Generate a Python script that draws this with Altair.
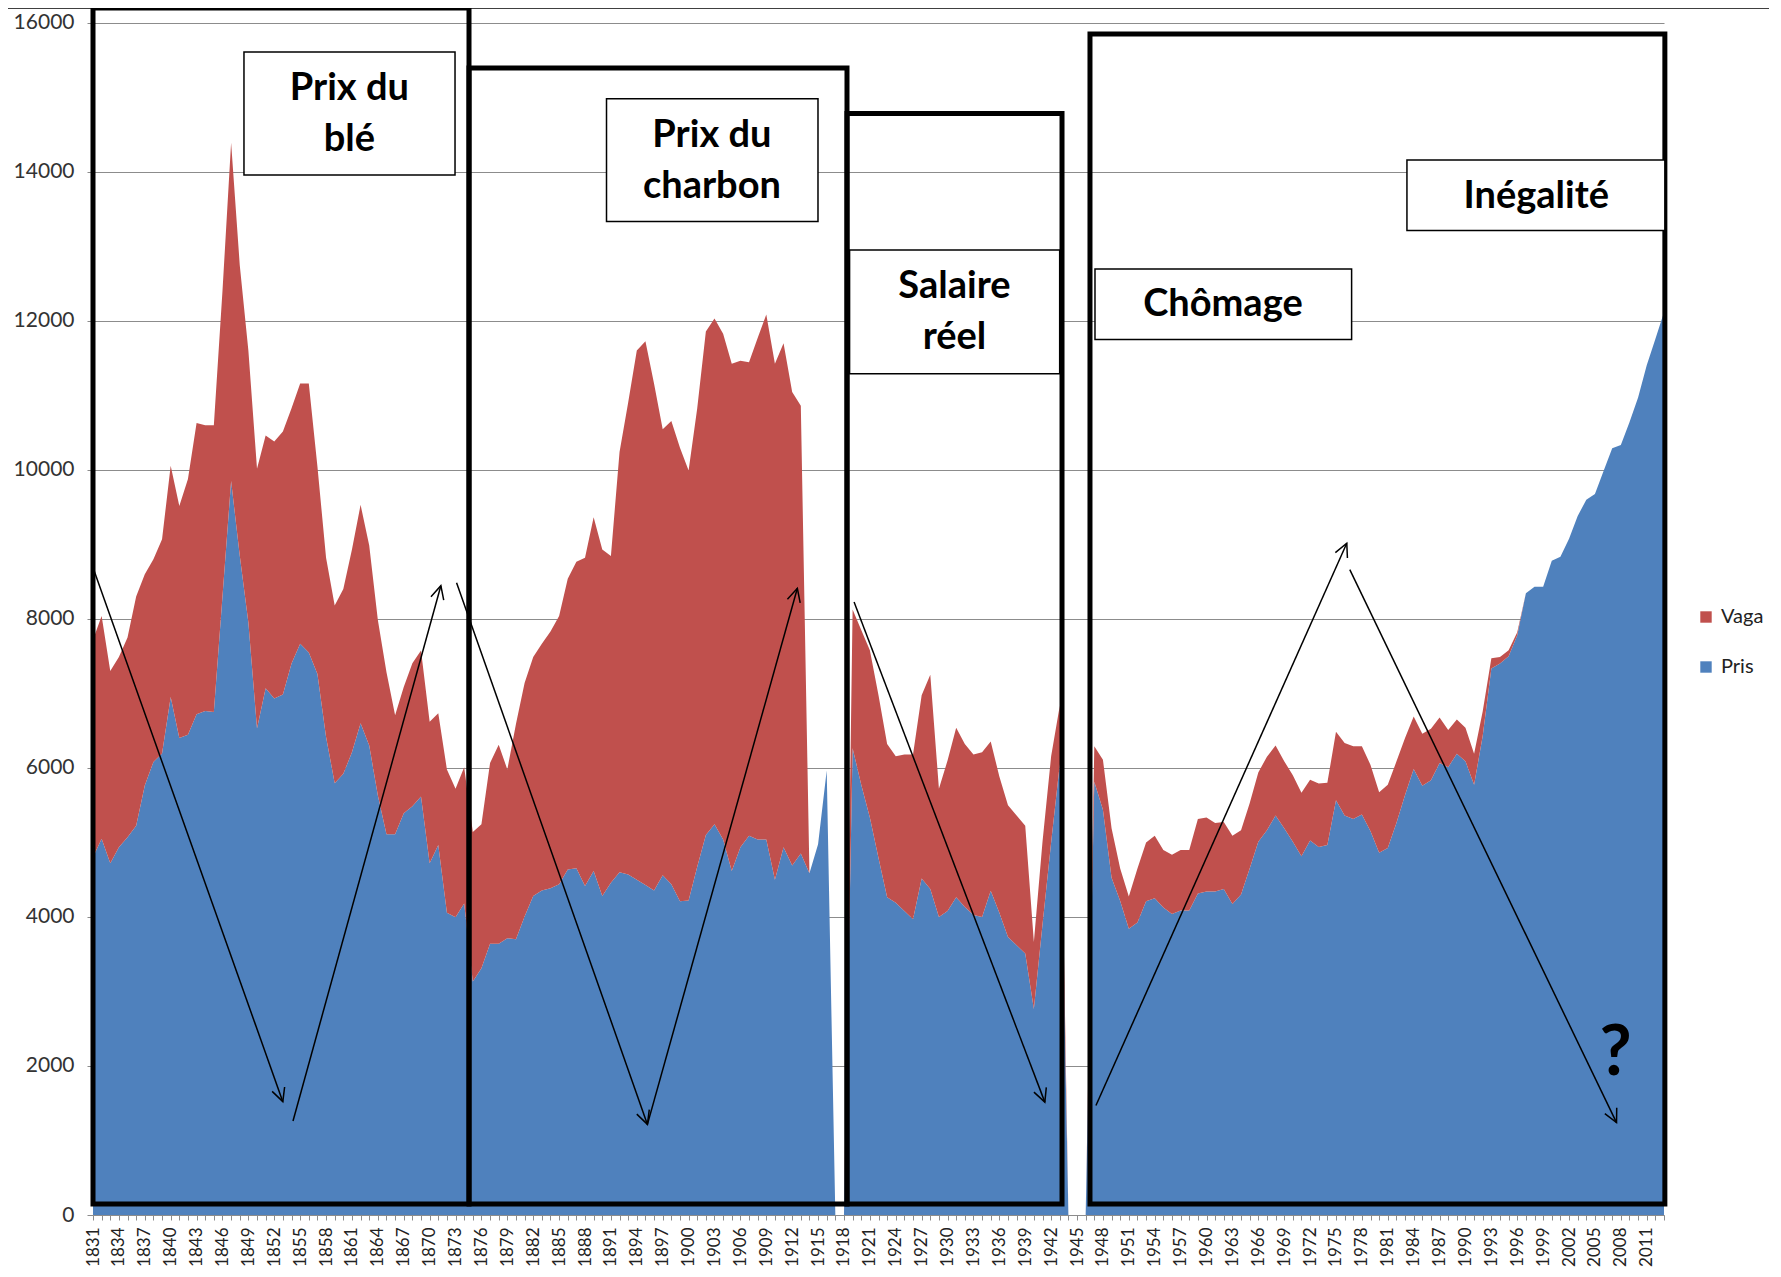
import math
import altair as alt
import pandas as pd

# ---------------- data ----------------
first_year = 1831
last_year = 2013
years = list(range(first_year, last_year + 1))

pris = [
    # 1831-1874
    4800, 5050, 4720, 4935, 5070, 5225, 5765, 6080, 6195, 6950,
    6400, 6445, 6720, 6765, 6750, 8300, 9850, 8850, 7950, 6530,
    7070, 6930, 6985, 7400, 7665, 7550, 7260, 6415, 5795, 5920,
    6210, 6600, 6300, 5630, 5110, 5110, 5390, 5485, 5615, 4720,
    4965, 4055, 3995, 4180,
    # 1875-1918
    3135, 3310, 3640, 3640, 3715, 3700, 4005, 4280, 4355, 4385,
    4440, 4635, 4655, 4415, 4615, 4280, 4460, 4600, 4570, 4500,
    4430, 4355, 4560, 4440, 4210, 4220, 4675, 5100, 5245, 5040,
    4615, 4935, 5090, 5040, 5040, 4500, 4935, 4690, 4850, 4585,
    4975, 5965, 0, 0,
    # 1919-1946
    6265, 5775, 5335, 4790, 4265, 4190, 4080, 3970, 4515, 4375,
    4000, 4080, 4265, 4135, 4025, 4000, 4350, 4055, 3730, 3620,
    3510, 2765, 3900, 5000, 6050, 0, 0, 0,
    # 1947-2013
    5815, 5440, 4525, 4215, 3840, 3925, 4210, 4250, 4125, 4040,
    4085, 4085, 4315, 4340, 4340, 4375, 4175, 4300, 4650, 5010,
    5165, 5360, 5190, 5010, 4815, 5025, 4940, 4965, 5565, 5360,
    5315, 5375, 5150, 4860, 4925, 5260, 5635, 5985, 5760, 5835,
    6065, 6010, 6190, 6090, 5775, 6430, 7335, 7400, 7500, 7780,
    8345, 8430, 8430, 8780, 8835, 9075, 9380, 9600, 9675, 9985,
    10290, 10335, 10640, 10970, 11405, 11755, 12115,
]

vaga = [
    # 1831-1874
    2920, 2990, 2580, 2555, 2680, 3075, 2835, 2720, 2875, 3105,
    3115, 3431, 3908, 3835, 3850, 4100, 4540, 3900, 3650, 3485,
    3390, 3450, 3530, 3425, 3495, 3610, 2785, 2405, 2385, 2480,
    2720, 2930, 2685, 2355, 2175, 1595, 1695, 1920, 1960, 1900,
    1770, 1925, 1725, 1830,
    # 1875-1918
    2005, 1935, 2425, 2670, 2265, 2890, 3135, 3210, 3310, 3445,
    3600, 3905, 4110, 4405, 4750, 4650, 4385, 5640, 6335, 7100,
    7295, 6800, 5985, 6215, 6085, 5770, 6150, 6755, 6785, 6785,
    6810, 6530, 6355, 6730, 7045, 6925, 6765, 6355, 6010, 0,
    0, 0, 0, 0,
    # 1919-1946
    1860, 2075, 2245, 2185, 2055, 1965, 2100, 2210, 2460, 2875,
    1720, 2020, 2275, 2185, 2155, 2210, 2005, 1830, 1770, 1740,
    1715, 900, 1110, 1155, 785, 0, 0, 0,
    # 1947-2013
    475, 670, 665, 435, 435, 725, 790, 840, 775, 795,
    815, 815, 1000, 995, 920, 900, 915, 865, 875, 930,
    985, 940, 900, 890, 850, 815, 850, 835, 920, 975,
    975, 915, 890, 815, 850, 825, 765, 705, 700, 690,
    610, 500, 460, 450, 415, 330, 135, 90, 80, 40,
    0, 0, 0, 0, 0, 0, 0, 0, 0, 0,
    0, 0, 0, 0, 0, 0, 0,
]

series_names = ["Vaga", "Pris"]
series_colors = ["#C0504D", "#4F81BD"]
y_ticks = [0, 2000, 4000, 6000, 8000, 10000, 12000, 14000, 16000]
x_ticks = years

# big framed periods (year left, year right, top value, bottom value)
frame_x1 = [1831.0, 1874.56, 1918.35, 1946.5]
frame_x2 = [1874.56, 1918.35, 1943.26, 2013.1]
frame_top = [16198, 15393, 14781, 15849]
frame_bottom = [148, 148, 148, 148]

# label boxes
label_x1 = [1848.49, 1890.49, 1918.65, 1947.08, 1983.22]
label_x2 = [1872.94, 1914.99, 1942.99, 1976.81, 2013.1]
label_y1 = [13957, 13333, 11290, 11748, 13211]
label_y2 = [15607, 14980, 12950, 12695, 14158]

# label text lines
line_text = ["Prix du", "blé", "Prix du", "charbon", "Salaire", "réel", "Chômage", "Inégalité"]
line_x = [1860.7, 1860.7, 1902.7, 1902.7, 1930.8, 1930.8, 1961.9, 1998.2]
line_y = [15111, 14427, 14480, 13796, 12454, 11763, 12206, 13668]

# arrows (start -> tip)
arrow_x1 = [1831.15, 1854.17, 1873.12, 1895.23, 1919.17, 1947.19, 1976.6]
arrow_y1 = [8638, 1262, 8486, 1216, 8226, 1470, 8660]
arrow_x2 = [1852.99, 1871.3, 1895.23, 1912.6, 1941.27, 1976.25, 2007.5]
arrow_y2 = [1521, 8445, 1216, 8411, 1515, 9015, 1240]

question_x = [2007.4]
question_y = [1880]

# ---------------- layout ----------------
W = 1571
H = 1207
Y_TOP = 16198
px_per_year = W / (last_year - first_year)
px_per_val = H / Y_TOP

rows = []
for i, yr in enumerate(years):
    rows.append({"year": yr, "serie": "Pris", "ord": 0, "val": pris[i]})
    rows.append({"year": yr, "serie": "Vaga", "ord": 1, "val": vaga[i]})
df = pd.DataFrame(rows)

xscale = alt.Scale(domain=[first_year, last_year], nice=False, zero=False)
yscale = alt.Scale(domain=[0, Y_TOP], nice=False, zero=True)

FONT = "Lato"

x_axis = alt.Axis(values=x_ticks, format="d",
                  labelExpr="(datum.value - 1831) % 3 == 0 ? datum.label : ''",
                  labelAngle=270, labelFontSize=17, labelFont=FONT,
                  labelColor="#222", labelPadding=7, labelOverlap=False,
                  labelBound=False, tickSize=5, tickColor="#8c8c8c",
                  domainColor="#8c8c8c", grid=False, labelFlush=False, title=None)
y_axis = alt.Axis(values=y_ticks, format="d", labelFontSize=21, labelFont=FONT,
                  labelColor="#333", labelPadding=13, tickSize=6,
                  tickColor="#8c8c8c", domain=False, grid=True, labelOverlap=False,
                  gridColor="#8c8c8c", gridWidth=1, title=None)


def xq(field):
    return alt.X(field, type="quantitative", scale=xscale, axis=x_axis, title=None)


def yq(field):
    return alt.Y(field, type="quantitative", scale=yscale, axis=y_axis, title=None)


area = alt.Chart(df).mark_area(interpolate="linear", opacity=1).encode(
    x=xq("year"),
    y=alt.Y("val:Q", stack="zero", scale=yscale, axis=y_axis, title=None),
    color=alt.Color("serie:N",
                    scale=alt.Scale(domain=series_names, range=series_colors),
                    legend=alt.Legend(title=None, orient="none", legendX=1603, legendY=599,
                                      symbolType="square", symbolSize=130,
                                      symbolStrokeWidth=0, labelFontSize=20,
                                      labelFont=FONT, labelColor="#222",
                                      rowPadding=30, labelOffset=5, padding=0)),
    order=alt.Order("ord:Q", sort="ascending"),
)

frames_df = pd.DataFrame({"x1": frame_x1, "x2": frame_x2, "y1": frame_bottom, "y2": frame_top})
frames = alt.Chart(frames_df).mark_rect(fillOpacity=0, stroke="black", strokeWidth=5,
                                        strokeJoin="miter", clip=False).encode(
    x=xq("x1"), x2="x2:Q", y=yq("y1"), y2="y2:Q",
)

top_df = pd.DataFrame({"x1": [1821], "x2": [2030], "y1": [Y_TOP]})
top_line = alt.Chart(top_df).mark_rule(color="black", strokeWidth=1.5, clip=False).encode(
    x=xq("x1"), x2="x2:Q", y=yq("y1"),
)

labels_df = pd.DataFrame({"x1": label_x1, "x2": label_x2, "y1": label_y1, "y2": label_y2})
label_boxes = alt.Chart(labels_df).mark_rect(fill="white", stroke="black", strokeWidth=1.5,
                                             clip=False).encode(
    x=xq("x1"), x2="x2:Q", y=yq("y1"), y2="y2:Q",
)

lines_df = pd.DataFrame({"x": line_x, "y": line_y, "t": line_text})
label_text = alt.Chart(lines_df).mark_text(font=FONT, fontSize=38, fontWeight="bold",
                                           color="black", align="center",
                                           baseline="middle").encode(
    x=xq("x"), y=yq("y"), text="t:N",
)

ang = []
for a, b, c, d in zip(arrow_x1, arrow_y1, arrow_x2, arrow_y2):
    dx = (c - a) * px_per_year
    dy = -(d - b) * px_per_val
    ang.append(math.degrees(math.atan2(dx, -dy)) % 360)

arrows_df = pd.DataFrame({"x1": arrow_x1, "y1": arrow_y1, "x2": arrow_x2, "y2": arrow_y2,
                          "ang": ang})
arrow_lines = alt.Chart(arrows_df).mark_rule(color="black", strokeWidth=1.5).encode(
    x=xq("x1"), x2="x2:Q", y=yq("y1"), y2="y2:Q",
)
arrow_heads = alt.Chart(arrows_df).mark_point(
    shape="M-0.5,1L0,0L0.5,1", filled=False, stroke="black", strokeWidth=1.5,
    size=700, opacity=1,
).encode(
    x=xq("x2"), y=yq("y2"),
    angle=alt.Angle("ang:Q", scale=None),
)

q_df = pd.DataFrame({"x": question_x, "y": question_y, "t": ["?"]})
question = alt.Chart(q_df).mark_text(font=FONT, fontSize=70, fontWeight="bold",
                                     color="black", align="center",
                                     baseline="alphabetic").encode(
    x=xq("x"), y=yq("y"), text="t:N",
)

chart = alt.layer(
    area, frames, top_line, label_boxes, label_text, arrow_lines, arrow_heads, question
).properties(
    width=W, height=H,
    autosize=alt.AutoSizeParams(type="none"),
    padding={"left": 85, "top": 0, "right": 105, "bottom": 54},
    background="white",
).configure_view(stroke=None).configure_axisX(labelOverlap=False)

chart.save("out.html", embed_options={"renderer": "svg", "actions": False})
